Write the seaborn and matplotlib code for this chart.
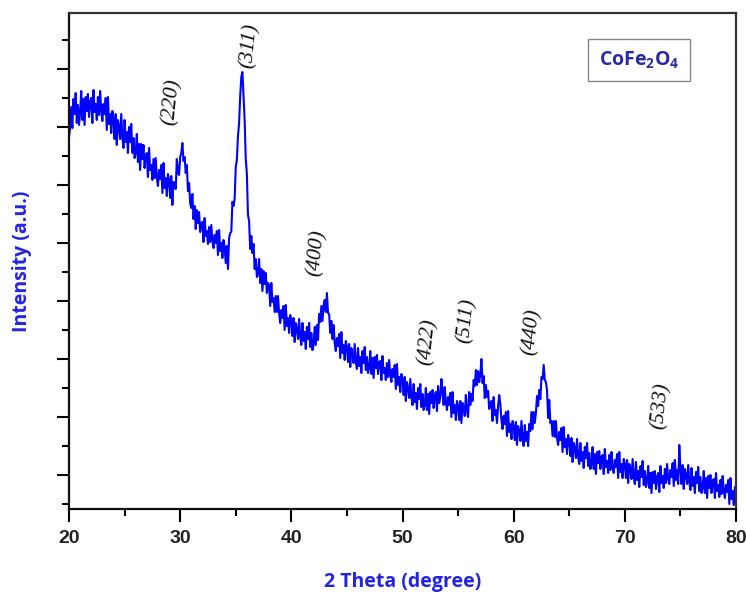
import numpy as np
import pandas as pd
import matplotlib
matplotlib.use("Agg")
import matplotlib.pyplot as plt
import seaborn as sns
from matplotlib.ticker import MultipleLocator, FixedLocator

# ---- data (0.1 degree steps) ----
two_theta_start = 20.0
two_theta_step = 0.1
intensity = [
    372, 381, 402, 381, 410, 395, 416, 386, 404, 384,   # 20
    396, 418, 389, 410, 384, 412, 398, 415, 392, 407,   # 21
    411, 386, 419, 397, 405, 389, 412, 394, 418, 398,   # 22
    388, 405, 395, 411, 379, 412, 385, 395, 376, 398,   # 23
    389, 370, 395, 364, 389, 382, 370, 395, 372, 361,   # 24
    389, 367, 377, 356, 382, 367, 385, 356, 371, 351,   # 25
    356, 375, 347, 365, 339, 365, 350, 364, 341, 354,   # 26
    356, 332, 361, 339, 344, 329, 350, 331, 351, 331,   # 27
    323, 339, 330, 344, 316, 346, 321, 331, 313, 335,   # 28
    329, 311, 333, 304, 327, 326, 320, 350, 336, 334,   # 29
    352, 356, 366, 348, 352, 336, 344, 318, 326, 306,   # 30
    301, 315, 290, 303, 280, 299, 286, 297, 277, 286,   # 31
    287, 267, 291, 273, 278, 265, 282, 267, 284, 268,   # 32
    261, 274, 266, 278, 254, 279, 258, 266, 251, 269,   # 33
    262, 246, 263, 240, 271, 276, 277, 307, 303, 310,   # 34
    342, 349, 373, 386, 413, 432, 437, 412, 389, 350,   # 35
    335, 294, 288, 260, 273, 256, 265, 240, 250, 232,   # 36
    235, 250, 226, 240, 218, 238, 225, 236, 216, 226,   # 37
    224, 203, 226, 207, 211, 197, 213, 197, 213, 196,   # 38
    186, 199, 191, 203, 179, 204, 183, 191, 176, 194,   # 39
    188, 173, 191, 167, 186, 180, 170, 190, 172, 164,   # 40
    186, 168, 177, 160, 182, 170, 186, 162, 176, 159,   # 41
    164, 182, 164, 184, 169, 195, 187, 203, 188, 203,   # 42
    209, 197, 216, 196, 195, 176, 188, 170, 184, 166,   # 43
    158, 171, 163, 175, 151, 177, 156, 164, 149, 168,   # 44
    162, 147, 165, 142, 161, 155, 146, 165, 147, 140,   # 45
    161, 143, 152, 136, 158, 146, 162, 139, 152, 136,   # 46
    141, 158, 135, 151, 131, 152, 141, 154, 135, 147,   # 47
    148, 129, 153, 136, 141, 129, 146, 132, 149, 134,   # 48
    127, 140, 132, 144, 120, 145, 124, 132, 117, 135,   # 49
    129, 114, 132, 108, 127, 121, 111, 130, 112, 104,   # 50
    125, 107, 116, 100, 121, 110, 125, 102, 115, 99,    # 51
    104, 121, 99, 115, 95, 117, 106, 119, 101, 113,     # 52
    117, 98, 123, 106, 112, 130, 118, 104, 122, 107,    # 53
    99, 112, 104, 116, 92, 117, 96, 104, 89, 108,       # 54
    103, 89, 108, 86, 106, 102, 93, 114, 98, 92,        # 55
    117, 104, 115, 108, 129, 123, 139, 124, 138, 127,   # 56
    134, 150, 126, 133, 111, 124, 112, 118, 100, 106,   # 57
    108, 88, 112, 94, 99, 86, 103, 114, 105, 89,        # 58
    80, 93, 85, 97, 73, 98, 77, 85, 70, 88,             # 59
    83, 69, 87, 64, 83, 78, 68, 88, 70, 63,             # 60
    84, 68, 77, 63, 85, 78, 97, 80, 97, 86,             # 61
    96, 113, 103, 119, 110, 132, 130, 144, 129, 127,    # 62
    119, 91, 109, 86, 88, 73, 88, 72, 88, 71,           # 63
    64, 77, 69, 81, 57, 82, 62, 70, 55, 74,             # 64
    68, 53, 71, 47, 66, 61, 51, 70, 52, 45,             # 65
    66, 48, 57, 41, 62, 51, 66, 43, 56, 40,             # 66
    45, 62, 40, 55, 35, 57, 46, 58, 40, 52,             # 67
    54, 35, 60, 42, 48, 36, 54, 39, 57, 42,             # 68
    36, 49, 42, 55, 31, 57, 37, 45, 31, 50,             # 69
    45, 31, 49, 26, 45, 40, 30, 50, 32, 25,             # 70
    47, 29, 38, 22, 43, 32, 48, 24, 38, 22,             # 71
    27, 43, 21, 36, 16, 37, 26, 38, 20, 32,             # 72
    36, 17, 43, 26, 33, 21, 40, 26, 45, 30,             # 73
    25, 39, 32, 46, 23, 49, 29, 39, 25, 64,             # 74
    40, 25, 44, 20, 40, 34, 25, 44, 27, 19,             # 75
    41, 23, 32, 16, 37, 26, 42, 18, 32, 16,             # 76
    21, 38, 16, 31, 11, 33, 21, 34, 16, 28,             # 77
    30, 11, 36, 18, 24, 12, 29, 15, 33, 18,             # 78
    11, 24, 17, 29, 5, 31, 10, 18, 4, 22,               # 79
    14,                                                 # 80
]
two_theta = [round(two_theta_start + i * two_theta_step, 2) for i in range(len(intensity))]

peak_labels = ["(220)", "(311)", "(400)", "(422)", "(511)", "(440)", "(533)"]
peak_label_x = [29.2, 36.2, 42.3, 52.3, 55.8, 61.6, 73.25]
peak_label_y = [407, 463, 256, 167, 188, 177, 103]

x_ticks = [20, 30, 40, 50, 60, 70, 80]
sample_name = r"CoFe$_\mathbf{2}$O$_\mathbf{4}$"

df = pd.DataFrame({"two_theta": two_theta, "intensity": intensity})

# ---- style ----
sns.set_style("ticks")
plt.rcParams["font.family"] = ["DejaVu Sans"]
plt.rcParams["mathtext.fontset"] = "custom"
plt.rcParams["mathtext.bf"] = "Open Sans:bold"
plt.rcParams["mathtext.rm"] = "Open Sans:bold"

fig = plt.figure(figsize=(7.46, 5.96), dpi=100)
ax = fig.add_axes([69 / 746, 87 / 596, 667 / 746, 496 / 596])

sns.lineplot(data=df, x="two_theta", y="intensity", ax=ax, color="#0000ff",
             linewidth=1.5, estimator=None, sort=False)

ax.set_xlim(20, 80)
ax.set_ylim(0, 496)
ax.xaxis.set_major_locator(FixedLocator(x_ticks))
ax.xaxis.set_minor_locator(MultipleLocator(5))
ax.yaxis.set_major_locator(FixedLocator(np.arange(34, 497, 58)))
ax.yaxis.set_minor_locator(FixedLocator(np.arange(5, 497, 58)))
ax.set_yticklabels([])
ax.set_xticks(x_ticks)
ax.set_xticklabels([str(t) for t in x_ticks], fontfamily="Liberation Sans",
                   fontweight="bold", fontsize=14, color="#222222")

ax.tick_params(axis="both", which="major", direction="out", length=9, width=1.5,
               color="black", pad=6)
ax.tick_params(axis="both", which="minor", direction="out", length=5, width=1.5,
               color="black")
ax.tick_params(axis="y", which="both", labelleft=False)
for s in ["left", "bottom", "top", "right"]:
    ax.spines[s].set_visible(True)
    ax.spines[s].set_linewidth(1.6)
    ax.spines[s].set_color("#111111")
ax.spines["top"].set_color("#333333")
ax.spines["right"].set_color("#333333")

ax.set_xlabel("2 Theta (degree)", fontfamily="Open Sans", fontweight="bold",
              fontsize=14, color="#2424e0")
ax.set_ylabel("Intensity (a.u.)", fontfamily="Open Sans", fontweight="bold",
              fontsize=14, color="#2424e0")
ax.xaxis.set_label_coords(0.5, -0.128)
ax.xaxis.label.set_va("top")
ax.yaxis.set_label_coords(-0.056, 0.5)

for lab, lx, ly in zip(peak_labels, peak_label_x, peak_label_y):
    ax.text(lx, ly, lab, rotation=84, ha="center", va="center",
            fontfamily="Liberation Serif", fontstyle="italic", fontsize=15.5,
            color="#111111")

ax.text(0.855, 0.905, sample_name, transform=ax.transAxes, ha="center", va="center",
        fontfamily="Open Sans", fontweight="bold", fontsize=14, color="#2a2aa8",
        bbox=dict(boxstyle="square,pad=0.55", facecolor="white",
                  edgecolor="#888888", linewidth=1.0))

fig.savefig("out.png", dpi=100)
